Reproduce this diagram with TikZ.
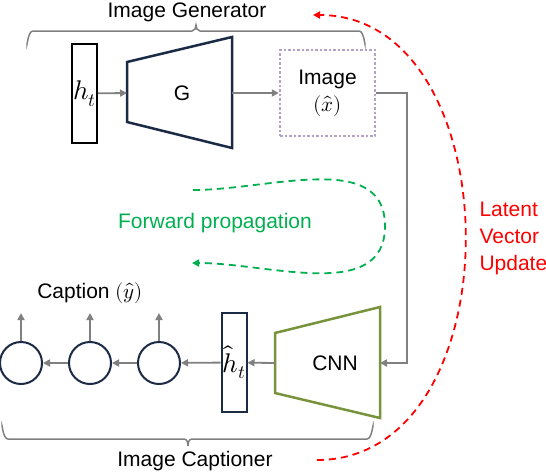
\documentclass[tikz,border=0pt]{standalone}
\usepackage{fontspec}
\usepackage{unicode-math}
\setmainfont{Liberation Sans}
\setmathfont{Latin Modern Math}
\usetikzlibrary{positioning,arrows.meta}
\definecolor{navy}{HTML}{1B2A45}
\definecolor{olive}{HTML}{77933C}
\definecolor{lavender}{HTML}{B3A2C7}
\definecolor{fwdgreen}{HTML}{00B050}
\definecolor{linegray}{HTML}{808080}

\begin{document}
\begin{tikzpicture}[x=1pt,y=-1pt,
          every node/.style={font=\fontsize{21}{27}\selectfont},
          conn/.style={linegray,line width=1.8pt,-{Triangle[length=7pt,width=7pt]}},
          hbox/.style={draw,line width=2pt,minimum width=25pt,minimum height=99pt,inner sep=0pt,
                       font=\fontsize{27}{30}\selectfont},
          cell/.style={circle,draw=navy,line width=2pt,minimum size=42pt,inner sep=0pt},
          brace/.style={linegray,line width=1.5pt},
        ]
        \useasboundingbox (0,0) rectangle (546,472);
        % generator
        \node[hbox,draw=black] (ht) at (84.5,93.5) {$h_t$};
        \draw[navy,line width=2.5pt] (127,62) -- (232,37) -- (232,148) -- (127,122) -- cycle;
        \coordinate (gin) at (127,93);
        \coordinate (gout) at (232,93);
        \node (G) at (182,93) {G};
        \node[draw=lavender,dotted,line width=2.5pt,minimum width=95pt,minimum height=86pt,
              align=center,inner sep=0pt] (img) at (327.5,93) {Image\\$(\hat{x})$};
        \draw[conn] (ht) -- (gin);
        \draw[conn] (gout) -- (img);
        % captioner
        \draw[olive,line width=2.5pt] (275,333) -- (380,307) -- (380,418) -- (275,393) -- cycle;
        \coordinate (cin) at (380,363);
        \coordinate (cout) at (275,363);
        \node (cnn) at (335,363) {CNN};
        \draw[conn] (img.east) -- (407,93) -- (407,363) -- (cin);
        \node[hbox,draw=navy] (hh) at (234,362.5) {$\hat{h}_t$};
        \draw[conn] (cout) -- (hh);
        \foreach \i/\xx in {1/21,2/90,3/159} {
          \node[cell] (c\i) at (\xx,363) {};
          \coordinate (o\i) at (\xx,313);
          \draw[conn] (c\i) -- (o\i);
        }
        \draw[conn] (hh) -- (c3);
        \draw[conn] (c3) -- (c2);
        \draw[conn] (c2) -- (c1);
        \node (cap) at (90,293) {Caption $(\hat{y})$};
        % braces
        \draw[brace] (27,43) to[out=-90,in=180] (33,31) -- (192,31)
          to[out=0,in=-90] (196,25) to[out=-90,in=180] (200,31) -- (359,31)
          to[out=0,in=-90] (365,43);
        \node (gen) at (187,12) {Image Generator};
        \draw[brace] (2,427) to[out=90,in=180] (8,439) -- (184,439)
          to[out=0,in=90] (188,446) to[out=90,in=180] (192,439) -- (367,439)
          to[out=0,in=90] (373,427);
        \node (capt) at (195,461) {Image Captioner};
        % forward propagation
        \node[text=fwdgreen] (fwd) at (215,223) {Forward propagation};
        \coordinate (fs) at (193,190);
        \coordinate (fe) at (192,263);
        \draw[fwdgreen,line width=1.8pt,dash pattern=on 7pt off 5pt,-{Triangle[length=7pt,width=7pt]}]
          (fs) to[out=0,in=90] (385,226) to[out=-90,in=0] (fe);
        % latent vector update
        \node[text=red,align=left,anchor=west] (lvu) at (476,238) {Latent\\Vector\\Update};
        \coordinate (ls) at (317,460);
        \coordinate (le) at (313,15);
        \draw[red,line width=1.8pt,dash pattern=on 7pt off 5pt,-{Triangle[length=7pt,width=7pt]}]
          (ls) .. controls (517,460) and (513,15) .. (le);
      \end{tikzpicture}
\end{document}
